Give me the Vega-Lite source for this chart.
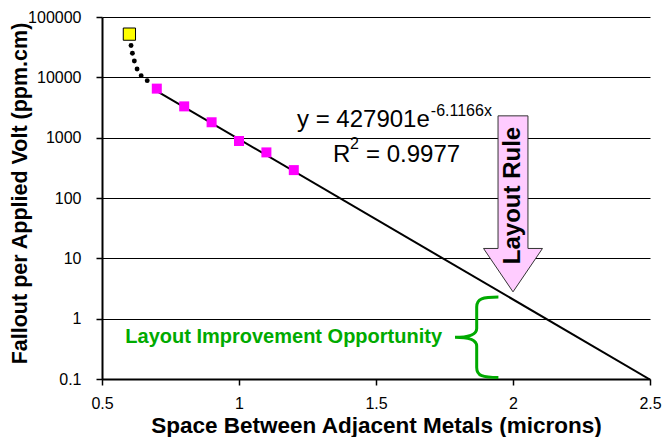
{
  "$schema": "https://vega.github.io/schema/vega-lite/v6.json",
  "width": 548,
  "height": 362,
  "autosize": {"type": "none"},
  "padding": {"left": 102, "top": 17, "right": 13, "bottom": 58},
  "background": "white",
  "config": {
    "font": "Liberation Sans",
    "view": {"stroke": null},
    "axis": {
      "domainColor": "black",
      "domainWidth": 2,
      "tickColor": "black",
      "tickWidth": 1.5,
      "tickSize": 6,
      "labelColor": "black",
      "labelFont": "Liberation Sans",
      "labelFontSize": 16,
      "labelFlush": false,
      "labelOverlap": false,
      "titleColor": "black",
      "titleFont": "Liberation Sans",
      "titleFontWeight": "bold"
    }
  },
  "datasets": {
    "measured": [
      {"spacing": 0.7, "fallout": 6500},
      {"spacing": 0.8, "fallout": 3300},
      {"spacing": 0.9, "fallout": 1800},
      {"spacing": 1.0, "fallout": 880},
      {"spacing": 1.1, "fallout": 570},
      {"spacing": 1.2, "fallout": 290}
    ],
    "minimum": [
      {"spacing": 0.6, "fallout": 52000}
    ],
    "transition": [
      {"spacing": 0.602, "fallout": 45880},
      {"spacing": 0.606, "fallout": 33750},
      {"spacing": 0.611, "fallout": 25120},
      {"spacing": 0.618, "fallout": 18700},
      {"spacing": 0.628, "fallout": 13750},
      {"spacing": 0.643, "fallout": 10670},
      {"spacing": 0.665, "fallout": 8810}
    ],
    "fit": [
      {"spacing": 0.7, "fallout": 5912.7},
      {"spacing": 2.5, "fallout": 0.09795}
    ],
    "rule": [
      {"spacing": 2.0, "fallout": 80, "label": "Layout Rule", "labelAt": 110}
    ],
    "equation": [
      {"spacing": 1.2117, "fallout": 1525, "label": "y = 427901e"},
      {"spacing": 1.343, "fallout": 398, "label": "R"},
      {"spacing": 1.4635, "fallout": 398, "label": "= 0.9977"}
    ],
    "exponents": [
      {"spacing": 1.7, "fallout": 2326, "label": "-6.1166x"},
      {"spacing": 1.405, "fallout": 656, "label": "2"}
    ],
    "opportunity": [
      {"spacing": 1.8675, "fallout": 0.492, "label": "Layout Improvement Opportunity", "labelAt": 1.7409}
    ]
  },
  "encoding": {
    "x": {
      "field": "spacing",
      "type": "quantitative",
      "scale": {"domain": [0.5, 2.5], "nice": false, "zero": false},
      "axis": {
        "title": "Space Between Adjacent Metals (microns)",
        "values": [0.5, 1, 1.5, 2, 2.5],
        "format": "~g",
        "grid": false,
        "labelPadding": 10,
        "titleFontSize": 22.5,
        "titleY": 53,
        "titleBaseline": "alphabetic"
      }
    },
    "y": {
      "field": "fallout",
      "type": "quantitative",
      "scale": {"type": "log", "domain": [0.1, 100000], "nice": false},
      "axis": {
        "title": "Fallout per Applied Volt (ppm.cm)",
        "values": [0.1, 1, 10, 100, 1000, 10000, 100000],
        "format": ".1~f",
        "grid": true,
        "gridColor": "black",
        "gridWidth": 1.2,
        "labelPadding": 15,
        "titleFontSize": 21.5,
        "titleX": -82,
        "titleY": 176,
        "titleAlign": "center",
        "titleBaseline": "middle",
        "titleAngle": 270
      }
    }
  },
  "layer": [
    {
      "data": {"name": "fit"},
      "mark": {"type": "line", "color": "black", "strokeWidth": 2, "clip": true}
    },
    {
      "data": {"name": "transition"},
      "mark": {"type": "point", "shape": "circle", "filled": true, "size": 24, "color": "black", "opacity": 1}
    },
    {
      "data": {"name": "measured"},
      "mark": {"type": "point", "shape": "square", "filled": true, "size": 100, "color": "#FF00FF", "opacity": 1}
    },
    {
      "data": {"name": "minimum"},
      "mark": {"type": "point", "shape": "square", "filled": true, "size": 150, "fill": "#FFFF00", "stroke": "black", "strokeWidth": 1, "opacity": 1}
    },
    {
      "data": {"name": "rule"},
      "mark": {
        "type": "point",
        "shape": "M -0.17 -1 L 0.17 -1 L 0.17 0.507 L 0.335 0.507 L 0 1 L -0.335 0.507 L -0.17 0.507 Z",
        "size": 30976,
        "filled": true,
        "fill": "#FFCCFF",
        "stroke": "#333333",
        "strokeWidth": 1,
        "opacity": 1
      }
    },
    {
      "data": {"name": "rule"},
      "mark": {"type": "text", "angle": 270, "align": "center", "baseline": "middle", "font": "Liberation Sans", "fontSize": 24, "fontWeight": "bold", "color": "black"},
      "encoding": {
        "y": {"field": "labelAt", "type": "quantitative"},
        "text": {"field": "label"}
      }
    },
    {
      "data": {"name": "equation"},
      "mark": {"type": "text", "align": "left", "baseline": "alphabetic", "font": "Liberation Sans", "fontSize": 24, "color": "black"},
      "encoding": {"text": {"field": "label"}}
    },
    {
      "data": {"name": "exponents"},
      "mark": {"type": "text", "align": "left", "baseline": "alphabetic", "font": "Liberation Sans", "fontSize": 16, "color": "black"},
      "encoding": {"text": {"field": "label"}}
    },
    {
      "data": {"name": "opportunity"},
      "mark": {
        "type": "point",
        "shape": "M 0.54 -1 C 0.15 -1 0 -0.96 0 -0.75 L 0 -0.22 C 0 -0.06 -0.2 0 -0.54 0 C -0.2 0 0 0.06 0 0.22 L 0 0.75 C 0 0.96 0.15 1 0.54 1",
        "size": 6464,
        "filled": false,
        "stroke": "#00AA00",
        "strokeWidth": 3,
        "opacity": 1
      }
    },
    {
      "data": {"name": "opportunity"},
      "mark": {"type": "text", "align": "right", "baseline": "middle", "font": "Liberation Sans", "fontSize": 20, "fontWeight": "bold", "color": "#00AA00"},
      "encoding": {
        "x": {"field": "labelAt", "type": "quantitative"},
        "text": {"field": "label"}
      }
    }
  ]
}
